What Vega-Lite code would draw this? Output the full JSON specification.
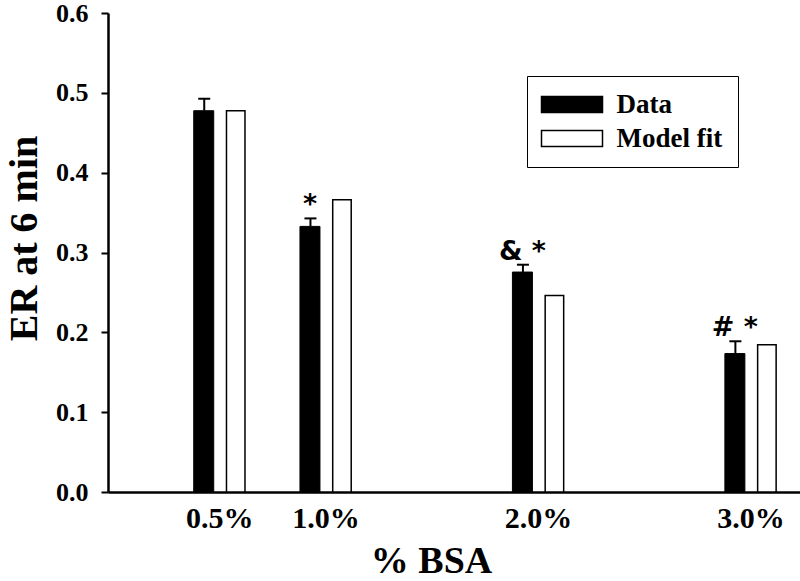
{
  "$schema": "https://vega.github.io/schema/vega-lite/v6.json",
  "width": 692,
  "height": 479,
  "autosize": {"type": "none"},
  "padding": {"left": 108, "top": 13, "right": 0, "bottom": 89},
  "background": "white",
  "config": {
    "view": {"stroke": null},
    "axis": {"grid": false}
  },
  "data": {
    "values": [
      {"bsa": 0.5, "series": "Data", "er": 0.4776, "upper": 0.4926, "sig": ""},
      {"bsa": 1.0, "series": "Data", "er": 0.3327, "upper": 0.3427, "sig": "*"},
      {"bsa": 2.0, "series": "Data", "er": 0.2755, "upper": 0.2847, "sig": "& *"},
      {"bsa": 3.0, "series": "Data", "er": 0.1734, "upper": 0.1888, "sig": "# *"},
      {"bsa": 0.5, "series": "Model fit", "er": 0.4776},
      {"bsa": 1.0, "series": "Model fit", "er": 0.366},
      {"bsa": 2.0, "series": "Model fit", "er": 0.2461},
      {"bsa": 3.0, "series": "Model fit", "er": 0.1846}
    ]
  },
  "encoding": {
    "x": {
      "field": "bsa",
      "type": "quantitative",
      "scale": {"domain": [0, 3.21], "nice": false, "zero": false},
      "axis": {
        "values": [0.5, 1, 2, 3],
        "labelExpr": "format(datum.value, '.1f') + '%'",
        "ticks": false,
        "tickSize": 0,
        "labelPadding": 11,
        "labelFont": "Liberation Serif",
        "labelFontWeight": "bold",
        "labelFontSize": 30,
        "labelColor": "black",
        "labelFlush": false,
        "labelOverlap": false,
        "domainColor": "black",
        "domainWidth": 2.5,
        "title": "% BSA",
        "titleFont": "Liberation Serif",
        "titleFontWeight": "bold",
        "titleFontSize": 38,
        "titleColor": "black",
        "titleX": 323,
        "titleY": 80,
        "titleAlign": "center",
        "titleBaseline": "alphabetic",
        "titleAngle": 0
      }
    }
  },
  "layer": [
    {
      "transform": [{"filter": "datum.series === 'Data'"}],
      "mark": {"type": "bar", "orient": "vertical", "width": 20, "xOffset": -15.5, "stroke": "black", "strokeWidth": 1},
      "encoding": {
        "y": {
          "field": "er",
          "type": "quantitative",
          "stack": null,
          "scale": {"domain": [0, 0.6], "nice": false},
          "axis": {
            "values": [0, 0.1, 0.2, 0.3, 0.4, 0.5, 0.6],
            "format": ".1f",
            "tickSize": 7,
            "tickWidth": 2,
            "tickColor": "black",
            "domainColor": "black",
            "domainWidth": 2.5,
            "labelPadding": 13,
            "labelFont": "Liberation Serif",
            "labelFontWeight": "bold",
            "labelFontSize": 26,
            "labelColor": "black",
            "labelFlush": false,
            "labelOverlap": false,
            "title": "ER at 6 min",
            "titleFont": "Liberation Serif",
            "titleFontWeight": "bold",
            "titleFontSize": 40,
            "titleColor": "black",
            "titleX": -72,
            "titleY": 225,
            "titleAngle": 270,
            "titleAlign": "center",
            "titleBaseline": "alphabetic"
          }
        },
        "fill": {
          "field": "series",
          "type": "nominal",
          "scale": {"domain": ["Data", "Model fit"], "range": ["black", "white"]},
          "legend": {
            "orient": "none",
            "legendX": 419,
            "legendY": 63,
            "title": null,
            "strokeColor": "black",
            "fillColor": "white",
            "padding": 15,
            "labelFont": "Liberation Serif",
            "labelFontWeight": "bold",
            "labelFontSize": 27,
            "labelColor": "black",
            "symbolType": "M-3.8125,-1H3.8125V1H-3.8125Z",
            "symbolSize": 256,
            "symbolStrokeColor": "black",
            "symbolStrokeWidth": 1.5,
            "symbolOffset": 16.5,
            "labelOffset": 31,
            "rowPadding": 6
          }
        }
      }
    },
    {
      "transform": [{"filter": "datum.series === 'Model fit'"}],
      "mark": {"type": "bar", "orient": "vertical", "width": 18.5, "xOffset": 16.5, "stroke": "black", "strokeWidth": 1.5},
      "encoding": {
        "y": {"field": "er", "type": "quantitative", "stack": null},
        "fill": {"field": "series", "type": "nominal"}
      }
    },
    {
      "transform": [{"filter": "datum.series === 'Data'"}],
      "mark": {"type": "rule", "xOffset": -15, "color": "black", "strokeWidth": 2},
      "encoding": {
        "y": {"field": "er", "type": "quantitative"},
        "y2": {"field": "upper"}
      }
    },
    {
      "transform": [{"filter": "datum.series === 'Data'"}],
      "mark": {"type": "tick", "orient": "horizontal", "size": 12, "thickness": 2, "xOffset": -15, "color": "black", "opacity": 1},
      "encoding": {
        "y": {"field": "upper", "type": "quantitative"}
      }
    },
    {
      "transform": [{"filter": "datum.series === 'Data' && datum.sig !== ''"}],
      "mark": {"type": "text", "font": "DejaVu Sans", "fontWeight": "bold", "fontSize": 27, "align": "center", "baseline": "alphabetic", "dy": -5, "xOffset": -15.5, "color": "black"},
      "encoding": {
        "y": {"field": "upper", "type": "quantitative"},
        "text": {"field": "sig"}
      }
    }
  ]
}
